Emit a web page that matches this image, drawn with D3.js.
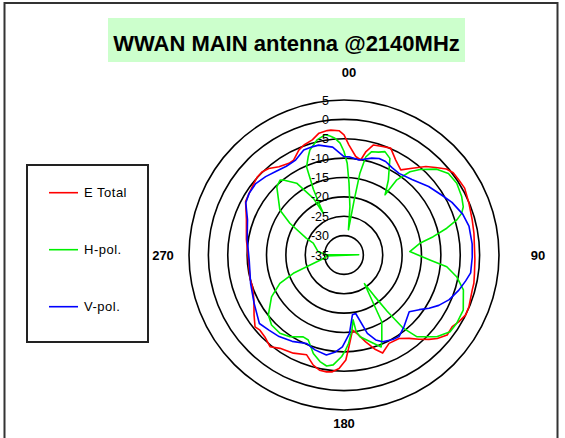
<!DOCTYPE html>
<html><head><meta charset="utf-8">
<script src="https://cdn.jsdelivr.net/npm/d3@7/dist/d3.min.js"></script>
<style>
body{margin:0;background:#fff}
svg{display:block}
text{font-family:Arial,"Liberation Sans",sans-serif;fill:#000}
</style>
</head><body>
<svg id="chart" width="565" height="438"></svg>
<script>
// ---------- data ----------
const chartTitle = "WWAN MAIN antenna @2140MHz";
const seriesNames = ["E Total", "H-pol.", "V-pol."];
const seriesColors = ["#ff0000", "#00f000", "#0000ff"];
const radialTicks = [5, 0, -5, -10, -15, -20, -25, -30, -35];
const angleTickValues = [0, 90, 180, 270];
const angleTickLabels = ["00", "90", "180", "270"];

const eTotalAngles = [0,2.6,6.8,10,12,15,19.5,23.6,28.6,33.7,38.2,42.8,46.3,50,53,57,61,67.5,74.7,80.5,92,98,102.3,105.3,112.5,116.2,120.1,123.5,127.8,131.8,134.8,138.3,142,146.6,153,158.5,162,166,170,173.5,176.9,179,182.5,185.7,188.5,192,195.6,200.5,207.3,214.4,218.9,224,228.2,231.1,236.3,243.4,250.7,256,267,279,290,298.5,303,308.5,312,315.6,319,323.6,329,332,336.8,340,344.6,348.4,352.3,354,357.7];
const eTotalValues = [-4.0,-6.6,-9.4,-10.1,-7.7,-5.6,-5.3,-4.9,-7.1,-8.6,-6.5,-3.9,-2.3,-0.5,0.3,0.4,0.6,-0.1,-0.7,-1.0,-1.2,-1.0,-0.7,-0.7,-0.1,0.0,-0.7,-1.5,-1.3,-2.7,-4.1,-5.9,-7.7,-9.2,-9.4,-7.8,-9.5,-11.9,-14.2,-15.5,-11.3,-7.9,-5.7,-4.7,-4.5,-4.6,-5.5,-7.5,-6.5,-5.8,-4.6,-5.6,-5.9,-5.5,-7.1,-9.0,-10.0,-10.0,-10.3,-9.5,-8.2,-6.1,-5.8,-5.3,-4.9,-4.9,-5.4,-6.7,-7.4,-7.3,-5.5,-4.8,-4.2,-2.9,-2.6,-2.6,-2.9];

const hPolAngles = [0,2,4,7,10,10.5,11,12.5,15,18.6,21.6,25.4,30.6,34.3,35.1,38.4,41.6,47.2,52,57.5,63.6,68,70.5,72.7,75.4,78.4,81.2,87,93.3,96.5,100.9,106.3,114.8,121.2,125.9,131.4,138.3,141,142.5,143.5,144.5,150.5,156,158,161.6,165,168.9,171,172,174,177,179,181.3,185.6,188.9,192.7,197.3,202.8,206.5,213.5,219.3,226,231.6,240,246.1,250.1,253.6,262,267,269,271,277,291,294,300.4,305,315.4,319.5,321,326.6,331.6,333.6,334.3,335,337,340,342,346.8,351,353.3,355.6,358];
const hPolValues = [-8.3,-11.3,-16.4,-22.5,-28.4,-20.6,-13.6,-9.1,-7.4,-7.0,-6.3,-7.4,-12.5,-16.2,-11.3,-7.6,-5.5,-2.4,-0.8,-0.5,-1.1,-1.8,-2.8,-4.5,-7.6,-11.5,-15.2,-18.0,-12.8,-8.3,-5.4,-2.9,-1.1,-1.0,-1.2,-3.1,-6.8,-10.7,-16.7,-21.8,-25.9,-15.2,-11.0,-9.4,-11.0,-12.3,-13.5,-15.0,-18.1,-15.5,-12.2,-10.5,-8.8,-6.5,-6.0,-6.8,-8.4,-11.2,-11.4,-9.7,-8.9,-9.0,-10.1,-13.4,-16.9,-21.1,-25.9,-30.2,-30.5,-38.8,-30.5,-28.3,-26.5,-24.4,-18.8,-14.8,-10.3,-9.6,-10.1,-12.8,-18.4,-23.0,-19.7,-16.3,-10.3,-8.0,-6.5,-4.5,-3.6,-4.1,-4.8,-6.1];

const vPolAngles = [0,3,9,16,20,24,29,34,42,51,59,64,71,77,85,91,98,102,107,113,118,122,126,131,140,146,150,156,159.5,163.4,168.7,172,176,181,185,190,197,203,211,218.5,225,231,242,253,267,279,290,298,303,309,315,321,327,333,339,344,347,354];
const vPolValues = [-9.6,-9.6,-10.2,-9.0,-8.5,-8.6,-9.3,-9.6,-8.8,-6.9,-5.3,-4.0,-2.6,-1.9,-1.8,-1.9,-2.0,-2.9,-4.0,-5.5,-7.3,-9.1,-11.0,-12.7,-10.9,-9.6,-9.8,-10.5,-11.6,-13.9,-19.6,-19.4,-14.7,-11.3,-9.9,-8.8,-9.4,-10.2,-9.0,-8.1,-7.6,-6.9,-8.7,-9.8,-10.5,-9.7,-8.5,-6.3,-5.8,-5.7,-6.4,-7.2,-7.7,-7.5,-6.0,-5.9,-5.9,-7.0];

// ---------- layout ----------
const cx = 344, cy = 255, R = 155;
const svg = d3.select("#chart");

// chart frame
svg.append("rect").attr("x", 4.5).attr("y", 3).attr("width", 553).attr("height", 450)
  .attr("fill", "#fff").attr("stroke", "#333").attr("stroke-width", 2);

// title
svg.append("rect").attr("x", 108).attr("y", 18).attr("width", 357).attr("height", 44)
  .attr("fill", "#ccffcc");
svg.append("text").attr("x", 286.5).attr("y", 51).attr("text-anchor", "middle")
  .attr("font-size", 22).attr("font-weight", "bold").text(chartTitle);

// scales
const angle = d3.scaleLinear().domain([0, 360]).range([0, 2 * Math.PI]);
const radius = d3.scaleLinear().domain([-35, 5]).range([0, R]);

const g = svg.append("g").attr("transform", `translate(${cx},${cy})`);

// grid circles
g.selectAll("circle.grid").data(radialTicks.filter(t => radius(t) > 0)).join("circle")
  .attr("class", "grid").attr("r", d => radius(d))
  .attr("fill", "none").attr("stroke", "#000").attr("stroke-width", 1.6);

// series
const series = [
  {name: seriesNames[0], color: seriesColors[0], a: eTotalAngles, v: eTotalValues},
  {name: seriesNames[1], color: seriesColors[1], a: hPolAngles, v: hPolValues},
  {name: seriesNames[2], color: seriesColors[2], a: vPolAngles, v: vPolValues}
];
const line = d3.lineRadial()
  .angle(d => angle(d[0]))
  .radius(d => radius(d[1]))
  .curve(d3.curveLinearClosed);

g.selectAll("path.series").data(series).join("path")
  .attr("class", "series")
  .attr("d", s => line(s.a.map((a, i) => [a, s.v[i]])))
  .attr("fill", "none").attr("stroke", s => s.color).attr("stroke-width", 1.6)
  .attr("stroke-linejoin", "round");

// radial tick labels (right-aligned left of the vertical axis)
g.selectAll("text.rt").data(radialTicks).join("text")
  .attr("class", "rt").attr("x", -15).attr("y", d => -radius(d)).attr("dy", "0.36em")
  .attr("text-anchor", "end").attr("font-size", 12.5).text(d => d);

// angle labels
const labelPad = [27.5, 39, 13, 26];
const labelShift = [5, 0, 0, 0];
g.selectAll("text.at").data(angleTickValues).join("text")
  .attr("class", "at")
  .attr("x", (d, i) => Math.sin(angle(d)) * (R + labelPad[i]) + labelShift[i])
  .attr("y", (d, i) => -Math.cos(angle(d)) * (R + labelPad[i]))
  .attr("dy", "0.36em").attr("text-anchor", "middle")
  .attr("font-size", 13).attr("font-weight", "bold").text((d, i) => angleTickLabels[i]);

// legend
const lg = svg.append("g");
lg.append("rect").attr("x", 27).attr("y", 165).attr("width", 121).attr("height", 177)
  .attr("fill", "#fff").attr("stroke", "#222").attr("stroke-width", 2);
const legendY = d3.scalePoint().domain(seriesNames).range([192.7, 306.7]);
lg.selectAll("line.li").data(series).join("line").attr("class", "li")
  .attr("x1", 49).attr("x2", 78)
  .attr("y1", s => legendY(s.name)).attr("y2", s => legendY(s.name))
  .attr("stroke", s => s.color).attr("stroke-width", 1.6);
lg.selectAll("text.lt").data(series).join("text").attr("class", "lt")
  .attr("x", 84).attr("y", s => legendY(s.name)).attr("dy", "0.36em")
  .attr("font-size", 13).attr("letter-spacing", 0.5).text(s => s.name);
</script>
</body></html>
